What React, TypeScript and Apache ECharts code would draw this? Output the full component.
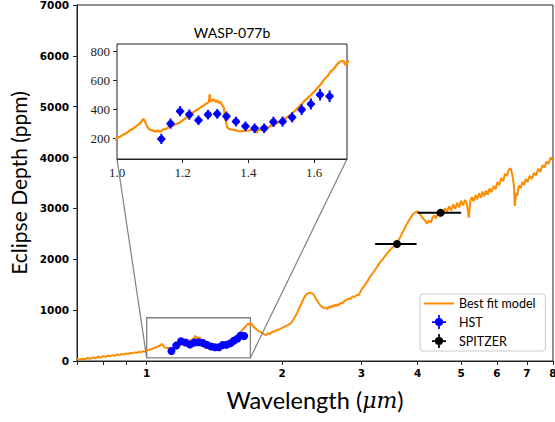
import React, { useEffect, useRef } from 'react';
import * as echarts from 'echarts';

// ---------------- data ----------------
const xTickLabels = [1, 2, 3, 4, 5, 6, 7, 8];
const xTickMarks = [0.7, 0.8, 0.9, 1, 2, 3, 4, 5, 6, 7, 8];
const insetXTicks = [1.0, 1.2, 1.4, 1.6];
const insetYTicks = [200, 400, 600, 800];

const hstWavelength = [1.135, 1.163, 1.192, 1.22, 1.248, 1.277, 1.305, 1.333, 1.362, 1.391, 1.419, 1.448, 1.476, 1.504, 1.533, 1.562, 1.59, 1.618, 1.647];
const hstDepth = [198, 303, 388, 365, 326, 365, 370, 353, 317, 285, 271, 271, 315, 317, 346, 399, 438, 502, 491];
const hstDepthErr = [35, 35, 35, 35, 33, 33, 33, 33, 33, 33, 33, 33, 35, 35, 35, 37, 38, 40, 40];
const hstWavelengthErr = [0.0125, 0.0125, 0.0125, 0.0125, 0.0125, 0.0125, 0.0125, 0.0125, 0.0125, 0.0125, 0.0125, 0.0125, 0.0125, 0.0125, 0.0125, 0.0125, 0.0125, 0.0125, 0.0125];

const spitzerWavelength = [3.6, 4.5];
const spitzerWavelengthErr = [0.38, 0.5];
const spitzerDepth = [2300, 2915];
const spitzerDepthErr = [50, 55];

const modelSpectrum: [number, number][] = [
  [0.70, 40], [0.71, 25], [0.72, 45], [0.73, 35], [0.74, 60], [0.75, 45], [0.76, 70], [0.77, 55], [0.78, 85], [0.79, 70],
  [0.80, 95], [0.81, 80], [0.82, 105], [0.83, 95], [0.84, 115], [0.85, 100], [0.86, 130], [0.87, 115], [0.88, 140], [0.89, 125],
  [0.90, 150], [0.91, 135], [0.92, 160], [0.93, 150], [0.94, 170], [0.95, 160], [0.96, 180], [0.97, 170], [0.98, 190], [0.99, 185],
  [1.00, 205], [1.01, 215], [1.02, 228], [1.03, 240], [1.04, 258], [1.05, 270], [1.06, 288], [1.07, 305], [1.075, 318], [1.08, 335],
  [1.085, 322], [1.09, 290], [1.095, 272], [1.10, 262], [1.11, 255], [1.12, 248], [1.125, 258], [1.13, 245], [1.14, 262], [1.15, 268],
  [1.16, 282], [1.17, 288], [1.18, 300], [1.19, 308], [1.20, 325], [1.21, 342], [1.22, 362], [1.23, 378], [1.24, 392], [1.25, 408],
  [1.26, 422], [1.27, 438], [1.28, 452], [1.282, 505], [1.285, 455], [1.29, 462], [1.295, 470], [1.30, 452], [1.305, 462], [1.31, 445],
  [1.315, 452], [1.32, 432], [1.325, 412], [1.33, 330], [1.335, 280], [1.34, 268], [1.35, 262], [1.36, 258], [1.37, 252], [1.38, 250],
  [1.39, 256], [1.40, 254], [1.41, 262], [1.42, 258], [1.425, 240], [1.43, 262], [1.44, 258], [1.45, 270], [1.46, 278], [1.47, 290],
  [1.48, 296], [1.49, 310], [1.50, 318], [1.51, 335], [1.52, 350], [1.53, 368], [1.54, 388], [1.55, 410], [1.56, 432], [1.57, 458],
  [1.58, 478], [1.59, 500], [1.60, 522], [1.61, 548], [1.62, 572], [1.63, 605], [1.64, 628], [1.65, 660], [1.66, 680], [1.67, 712],
  [1.68, 730], [1.69, 735], [1.695, 705], [1.70, 720], [1.71, 738], [1.72, 690], [1.74, 650], [1.76, 610], [1.78, 580], [1.80, 560],
  [1.82, 530], [1.84, 510], [1.86, 545], [1.88, 530], [1.90, 570], [1.92, 580], [1.94, 600], [1.96, 615], [1.98, 630], [2.00, 650],
  [2.02, 670], [2.04, 690], [2.06, 705], [2.08, 730], [2.10, 760], [2.12, 820], [2.14, 880], [2.16, 950], [2.18, 1030], [2.20, 1100],
  [2.22, 1180], [2.24, 1250], [2.26, 1300], [2.28, 1330], [2.30, 1345], [2.32, 1335], [2.34, 1320], [2.36, 1280], [2.38, 1220], [2.40, 1170],
  [2.42, 1120], [2.44, 1080], [2.46, 1060], [2.48, 1040], [2.50, 1050], [2.52, 1020], [2.54, 1070], [2.56, 1040], [2.58, 1090], [2.60, 1060],
  [2.62, 1110], [2.64, 1080], [2.66, 1120], [2.68, 1100], [2.70, 1150], [2.72, 1130], [2.75, 1180], [2.78, 1200], [2.81, 1230], [2.84, 1220],
  [2.87, 1270], [2.90, 1260], [2.93, 1300], [2.96, 1290], [3.00, 1400], [3.05, 1480], [3.10, 1580], [3.15, 1680], [3.20, 1760], [3.25, 1850],
  [3.30, 1940], [3.35, 2010], [3.40, 2080], [3.45, 2150], [3.50, 2210], [3.55, 2260], [3.60, 2320], [3.65, 2420], [3.70, 2520], [3.75, 2620],
  [3.80, 2720], [3.85, 2800], [3.90, 2880], [3.95, 2920], [4.00, 2940], [4.04, 2900], [4.08, 2850], [4.12, 2800], [4.16, 2760], [4.20, 2700],
  [4.24, 2760], [4.28, 2720], [4.32, 2820], [4.36, 2860], [4.40, 2800], [4.44, 2930], [4.48, 2880], [4.52, 2960], [4.56, 2900], [4.60, 3000],
  [4.65, 2940], [4.70, 3040], [4.75, 2960], [4.80, 3080], [4.85, 2990], [4.90, 3110], [4.95, 3020], [5.00, 3150], [5.05, 3060], [5.10, 3170],
  [5.15, 3080], [5.20, 2820], [5.24, 3150], [5.28, 3220], [5.33, 3140], [5.38, 3260], [5.43, 3180], [5.48, 3300], [5.53, 3210], [5.58, 3330],
  [5.63, 3240], [5.68, 3350], [5.73, 3270], [5.78, 3390], [5.84, 3320], [5.90, 3440], [5.96, 3380], [6.02, 3520], [6.08, 3460], [6.14, 3600],
  [6.20, 3540], [6.26, 3680], [6.32, 3640], [6.38, 3760], [6.44, 3790], [6.50, 3650], [6.55, 3450], [6.58, 3050], [6.62, 3300], [6.66, 3250],
  [6.72, 3450], [6.78, 3400], [6.84, 3520], [6.90, 3460], [6.96, 3580], [7.02, 3520], [7.10, 3640], [7.18, 3580], [7.26, 3700], [7.34, 3650],
  [7.42, 3780], [7.50, 3720], [7.58, 3850], [7.66, 3800], [7.74, 3920], [7.82, 3880], [7.90, 4000], [8.00, 3960],
];

// ---------------- styles ----------------
const ORANGE = '#ff8c00';
const BLUE = '#0000ff';
const BLACK = '#000000';
const GREY = '#808080';
const AXIS = '#222222';
const INSET_X = [1.0, 1.7];
const INSET_Y = [60, 850];

const errIconPath =
  'path://M10.5,0H13.5V24H10.5Z M0,10.5H24V13.5H0Z M5,12A7,7 0 1,1 19,12A7,7 0 1,1 5,12Z';

const hstRows = hstWavelength.map((w, i) => [w, hstDepth[i], hstWavelengthErr[i], hstDepthErr[i]]);
const spitzerRows = spitzerWavelength.map((w, i) => [w, spitzerDepth[i], spitzerWavelengthErr[i], spitzerDepthErr[i]]);

const errorBars = (color: string, lw: number) => (_p: any, api: any) => {
  const x = api.value(0);
  const y = api.value(1);
  const xe = api.value(2);
  const ye = api.value(3);
  const l = api.coord([x - xe, y]);
  const r = api.coord([x + xe, y]);
  const t = api.coord([x, y + ye]);
  const b = api.coord([x, y - ye]);
  return {
    type: 'group',
    children: [
      { type: 'line', shape: { x1: l[0], y1: l[1], x2: r[0], y2: r[1] }, style: { stroke: color, lineWidth: lw } },
      { type: 'line', shape: { x1: t[0], y1: t[1], x2: b[0], y2: b[1] }, style: { stroke: color, lineWidth: lw } },
    ],
  };
};

const boldTick = { fontFamily: 'DejaVu Sans', fontWeight: 'bold' as const, fontSize: 10.5, color: '#000' };
const serifTick = { fontFamily: 'Liberation Serif', fontSize: 13, color: '#222' };

function buildOption(): any {
  return {
    animation: false,
    backgroundColor: '#fff',
    grid: [
      { left: 77, top: 5, right: 2, bottom: 61, show: true, borderColor: AXIS, borderWidth: 1, backgroundColor: '#fff', containLabel: false, outerBoundsMode: 'none' },
      { left: 117, top: 44, width: 230, height: 115, show: true, borderColor: AXIS, borderWidth: 1, backgroundColor: '#fff', containLabel: false, outerBoundsMode: 'none', z: 5 },
    ],
    xAxis: [
      {
        type: 'log', logBase: 10, min: 0.7, max: 8, gridIndex: 0,
        name: 'Wavelength ({i|μm})', nameLocation: 'middle', nameGap: 27,
        nameTextStyle: { fontFamily: 'Lato', fontSize: 23.5, color: '#000', rich: { i: { fontFamily: 'DejaVu Serif', fontStyle: 'italic', fontSize: 22, color: '#000' } } },
        axisLine: { show: true, lineStyle: { color: AXIS, width: 1 } },
        axisTick: { show: true, inside: false, length: 4, customValues: xTickMarks, lineStyle: { color: AXIS } },
        axisLabel: { show: true, margin: 6, customValues: xTickLabels, formatter: (v: number) => `${Math.round(v * 100) / 100}`, ...boldTick },
        splitLine: { show: false }, minorTick: { show: false },
      },
      {
        type: 'value', min: INSET_X[0], max: INSET_X[1], gridIndex: 1,
        axisLine: { show: true, lineStyle: { color: AXIS, width: 1 } },
        axisTick: { show: true, inside: false, length: 4, customValues: insetXTicks, lineStyle: { color: AXIS } },
        axisLabel: { show: true, margin: 7, customValues: insetXTicks, formatter: (v: number) => v.toFixed(1), ...serifTick },
        splitLine: { show: false },
      },
    ],
    yAxis: [
      {
        type: 'value', min: 0, max: 7000, interval: 1000, gridIndex: 0,
        name: 'Eclipse Depth (ppm)', nameLocation: 'middle', nameGap: 48,
        nameTextStyle: { fontFamily: 'Lato', fontSize: 21, color: '#000' },
        axisLine: { show: true, lineStyle: { color: AXIS, width: 1 } },
        axisTick: { show: true, inside: false, length: 4, lineStyle: { color: AXIS } },
        axisLabel: { show: true, margin: 8, formatter: (v: number) => String(v), ...boldTick },
        splitLine: { show: false },
      },
      {
        type: 'value', min: INSET_Y[0], max: INSET_Y[1], gridIndex: 1,
        axisLine: { show: true, lineStyle: { color: AXIS, width: 1 } },
        axisTick: { show: true, inside: false, length: 4, customValues: insetYTicks, lineStyle: { color: AXIS } },
        axisLabel: { show: true, margin: 7, customValues: insetYTicks, formatter: (v: number) => String(v), ...serifTick },
        splitLine: { show: false },
      },
    ],
    legend: {
      left: 420, top: 294, orient: 'vertical', itemWidth: 30, itemHeight: 14, itemGap: 5,
      padding: [3, 10, 3, 4], backgroundColor: '#fff', borderColor: '#cccccc', borderWidth: 1, borderRadius: 3,
      textStyle: { fontFamily: 'Lato', fontSize: 12.5, color: '#000' },
      selectedMode: false,
      data: [
        { name: 'Best fit model', icon: 'path://M0,0H30V2H0Z' },
        { name: 'HST', icon: errIconPath },
        { name: 'SPITZER', icon: errIconPath },
      ],
      z: 20,
    },
    series: [
      {
        name: 'Best fit model', type: 'line', xAxisIndex: 0, yAxisIndex: 0, data: modelSpectrum,
        showSymbol: false, symbol: 'none', lineStyle: { color: ORANGE, width: 2 }, itemStyle: { color: ORANGE }, z: 2,
        markArea: {
          silent: true, label: { show: false },
          itemStyle: { color: 'rgba(0,0,0,0)', borderColor: GREY, borderWidth: 1.3 },
          data: [[{ coord: [INSET_X[0], INSET_Y[0]] }, { coord: [INSET_X[1], INSET_Y[1]] }]],
        },
      },
      {
        type: 'custom', xAxisIndex: 0, yAxisIndex: 0, data: hstRows, renderItem: errorBars(BLUE, 1.5),
        encode: { x: 0, y: 1 }, z: 3, silent: true,
      },
      {
        name: 'HST', type: 'scatter', xAxisIndex: 0, yAxisIndex: 0, data: hstRows.map((r) => [r[0], r[1]]),
        symbol: 'circle', symbolSize: 8, itemStyle: { color: BLUE, opacity: 1 }, z: 4,
      },
      {
        type: 'custom', xAxisIndex: 0, yAxisIndex: 0, data: spitzerRows, renderItem: errorBars(BLACK, 2),
        encode: { x: 0, y: 1 }, z: 3, silent: true,
      },
      {
        name: 'SPITZER', type: 'scatter', xAxisIndex: 0, yAxisIndex: 0, data: spitzerRows.map((r) => [r[0], r[1]]),
        symbol: 'circle', symbolSize: 8, itemStyle: { color: BLACK, opacity: 1 }, z: 4,
      },
      {
        name: 'Best fit model', type: 'line', xAxisIndex: 1, yAxisIndex: 1, data: modelSpectrum,
        showSymbol: false, symbol: 'none', lineStyle: { color: ORANGE, width: 2.2 }, itemStyle: { color: ORANGE }, z: 6, clip: true,
      },
      {
        type: 'custom', xAxisIndex: 1, yAxisIndex: 1, data: hstRows, renderItem: errorBars(BLUE, 2),
        encode: { x: 0, y: 1 }, z: 7, silent: true,
      },
      {
        name: 'HST', type: 'scatter', xAxisIndex: 1, yAxisIndex: 1, data: hstRows.map((r) => [r[0], r[1]]),
        symbol: 'circle', symbolSize: 7, itemStyle: { color: BLUE, opacity: 1 }, z: 8,
      },
    ],
  };
}

export default function App() {
  const ref = useRef<HTMLDivElement>(null);
  useEffect(() => {
    if (!ref.current) return;
    const chart = echarts.init(ref.current, null, { renderer: 'svg' });
    chart.setOption(buildOption());
    const mainBL = chart.convertToPixel({ gridIndex: 0 } as any, [INSET_X[0], INSET_Y[0]]) as number[];
    const mainBR = chart.convertToPixel({ gridIndex: 0 } as any, [INSET_X[1], INSET_Y[0]]) as number[];
    const insetBL = chart.convertToPixel({ gridIndex: 1 } as any, [INSET_X[0], INSET_Y[0]]) as number[];
    const insetBR = chart.convertToPixel({ gridIndex: 1 } as any, [INSET_X[1], INSET_Y[0]]) as number[];
    const insetTL = chart.convertToPixel({ gridIndex: 1 } as any, [INSET_X[0], INSET_Y[1]]) as number[];
    const insetCx = (insetBL[0] + insetBR[0]) / 2;
    chart.setOption({
      graphic: [
        {
          id: 'insetTitle', type: 'text', x: insetCx, y: insetTL[1] - 12, z: 10,
          style: { text: 'WASP-077b', fontFamily: 'Lato', fontSize: 14, fill: '#000', align: 'center', verticalAlign: 'middle', textAlign: 'center', textVerticalAlign: 'middle' },
        },
        {
          id: 'connL', type: 'line', z: 3, silent: true,
          shape: { x1: insetBL[0], y1: insetBL[1], x2: mainBL[0], y2: mainBL[1] },
          style: { stroke: GREY, lineWidth: 1.2 },
        },
        {
          id: 'connR', type: 'line', z: 3, silent: true,
          shape: { x1: insetBR[0], y1: insetBR[1], x2: mainBR[0], y2: mainBR[1] },
          style: { stroke: GREY, lineWidth: 1.2 },
        },
      ],
    });
    return () => chart.dispose();
  }, []);
  return <div ref={ref} style={{ position: 'fixed', left: 0, top: 0, width: 555, height: 422, background: '#fff' }} />;
}
